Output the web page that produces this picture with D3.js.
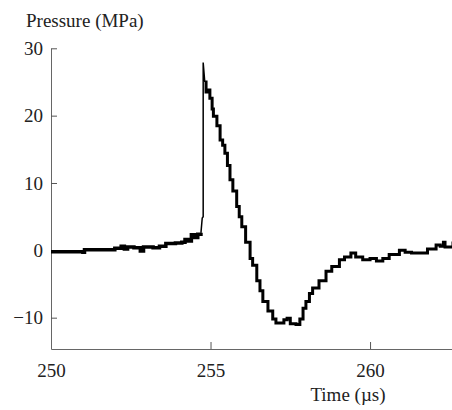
<!DOCTYPE html>
<html>
<head>
<meta charset="utf-8">
<script src="https://cdn.jsdelivr.net/npm/d3@7"></script>
</head>
<body style="margin:0; background:#fff">
<svg id="chart" width="452" height="410" font-family="Liberation Serif"></svg>
<script>
// axis ticks
const xTicks = [250, 255, 260];
const yTicks = [-10, 0, 10, 20, 30];

// trace before the shock front
const preTime = [250.0, 250.5, 251.0, 251.05, 251.3, 251.8, 252.0, 252.2, 252.3, 252.4, 252.6, 252.8, 252.9, 253.2, 253.4, 253.6, 253.9, 254.1, 254.2, 254.3, 254.4, 254.5, 254.6, 254.7];
const prePressure = [-0.2, -0.2, -0.3, 0.1, 0.1, 0.1, 0.3, 0.6, 0.2, 0.5, 0.4, -0.1, 0.5, 0.4, 0.6, 1.0, 1.1, 1.2, 1.6, 1.4, 2.3, 1.9, 2.4, 2.6];

// the thin spike
const spikeTime = [254.7, 254.74, 254.77, 254.77, 254.82];
const spikePressure = [2.6, 4.8, 5.0, 27.9, 25.0];

// decay after the front
const postTime = [254.82, 254.86, 254.92, 254.98, 255.05, 255.09, 255.2, 255.3, 255.38, 255.45, 255.53, 255.61, 255.7, 255.82, 255.9, 255.98, 256.1, 256.24, 256.32, 256.45, 256.55, 256.64, 256.8, 256.95, 257.05, 257.2, 257.3, 257.4, 257.5, 257.68, 257.8, 257.9, 257.99, 258.1, 258.2, 258.4, 258.62, 258.8, 259.04, 259.2, 259.4, 259.55, 259.77, 260.0, 260.2, 260.4, 260.6, 260.92, 261.1, 261.3, 261.55, 261.8, 262.07, 262.2, 262.3, 262.35, 262.6];
const postPressure = [25.0, 23.5, 23.8, 22.6, 21.0, 19.9, 18.5, 16.4, 15.6, 14.4, 12.6, 10.5, 8.8, 6.5, 5.0, 3.5, 1.2, -1.2, -2.2, -4.5, -6.0, -7.6, -9.0, -10.2, -10.8, -10.8, -10.3, -10.1, -10.9, -11.0, -10.2, -8.6, -7.6, -6.4, -5.6, -4.5, -3.1, -2.4, -1.4, -1.0, -0.4, -1.0, -1.4, -1.2, -1.6, -1.2, -0.6, 0.0, -0.3, -0.4, -0.4, 0.2, 0.8, 0.6, 1.2, 0.5, 1.3];

const serif = 'Liberation Serif';

const svg = d3.select('#chart');

const x = d3.scaleLinear().domain([250, 262.6]).range([51, 453]);
const y = d3.scaleLinear().domain([-14.65, 30]).range([349, 48.3]);

// y axis, ticks pointing inward
const yAxis = svg.append('g')
    .attr('transform', `translate(${x(250)},0)`)
    .call(d3.axisLeft(y).tickValues(yTicks).tickSizeInner(-6).tickSizeOuter(0).tickPadding(8));

// x axis, ticks pointing up
const xAxis = svg.append('g')
    .attr('transform', `translate(0,${y(-14.65)})`)
    .call(d3.axisBottom(x).tickValues(xTicks).tickSizeInner(-7).tickSizeOuter(0).tickPadding(15));

[yAxis, xAxis].forEach(g => {
    g.attr('font-family', serif).attr('font-size', 19);
    g.select('.domain').attr('stroke', '#666').attr('stroke-width', 1);
    g.selectAll('.tick line').attr('stroke', '#555');
    g.selectAll('.tick text')
        .attr('font-family', serif)
        .attr('font-size', 19)
        .attr('fill', '#222');
});
xAxis.selectAll('.tick').filter(d => d === 250).select('line').remove();

const line = d3.line()
    .x(d => x(d[0]))
    .y(d => y(d[1]));

function drawTrace(times, values, width, curve) {
    svg.append('path')
        .datum(d3.zip(times, values))
        .attr('fill', 'none')
        .attr('stroke', '#000')
        .attr('stroke-width', width)
        .attr('stroke-linejoin', 'miter')
        .attr('d', line.curve(curve));
}

drawTrace(preTime, prePressure, 3.5, d3.curveStepAfter);
drawTrace(spikeTime, spikePressure, 1.5, d3.curveLinear);
drawTrace(postTime, postPressure, 3, d3.curveStepAfter);

// axis titles
svg.append('text')
    .attr('x', 26).attr('y', 27)
    .attr('font-family', serif)
    .attr('font-size', 19)
    .attr('fill', '#222')
    .text('Pressure (MPa)');

svg.append('text')
    .attr('x', 348).attr('y', 401)
    .attr('text-anchor', 'middle')
    .attr('font-family', serif)
    .attr('font-size', 19)
    .attr('fill', '#222')
    .text('Time (µs)');
</script>
</body>
</html>
